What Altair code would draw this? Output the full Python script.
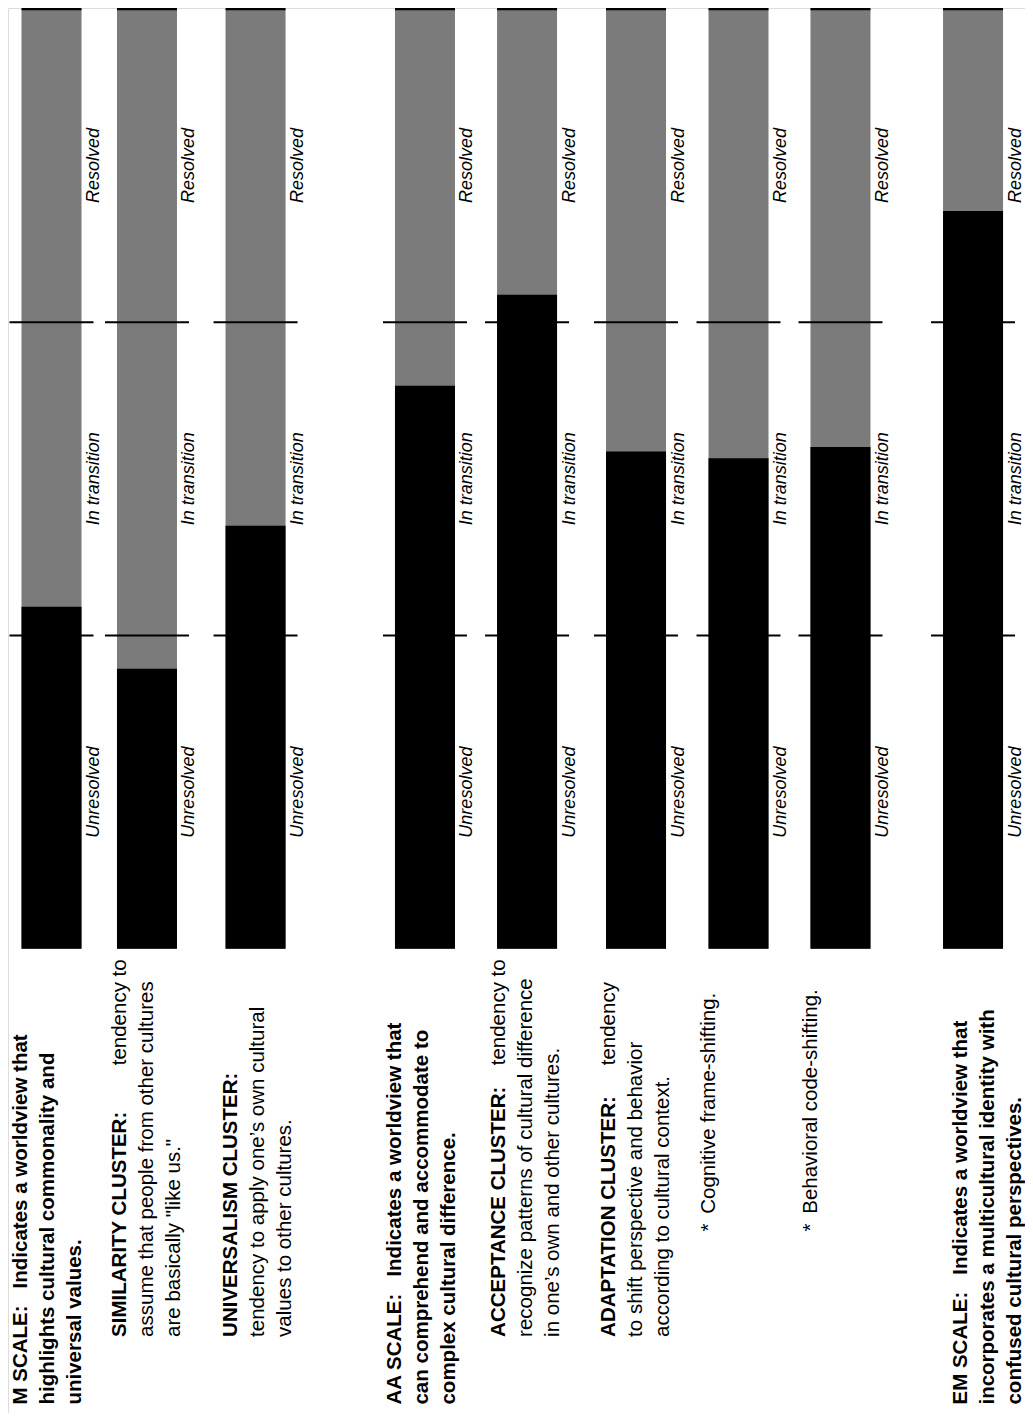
import altair as alt
import pandas as pd

# ---------------- data ----------------
categories = ["M SCALE", "SIMILARITY CLUSTER", "UNIVERSALISM CLUSTER", "AA SCALE",
              "ACCEPTANCE CLUSTER", "ADAPTATION CLUSTER", "Cognitive frame-shifting",
              "Behavioral code-shifting", "EM SCALE"]
bar_slots = [0.0, 0.927, 1.981, 3.626, 4.617, 5.675, 6.670, 7.660, 8.947]
unresolved_level = [36.4, 29.8, 45.0, 59.9, 69.6, 52.9, 52.2, 53.4, 78.5]
scale_top = 100
stage_bounds = [33.33, 66.67]
stage_labels = ["Unresolved", "In transition", "Resolved"]

NB = "\u00a0"
bold_lines = [
    ["M SCALE:" + NB * 3 + "Indicates a worldview that", "highlights cultural commonality and", "universal values."],
    ["SIMILARITY CLUSTER:"],
    ["UNIVERSALISM CLUSTER:"],
    ["AA SCALE:" + NB * 3 + "Indicates a worldview that", "can comprehend and accommodate to", "complex cultural difference."],
    ["ACCEPTANCE CLUSTER:"],
    ["ADAPTATION CLUSTER:"],
    [],
    [],
    ["EM SCALE:" + NB * 3 + "Indicates a worldview that", "incorporates a multicultural identity with", "confused cultural perspectives."],
]
inline_text = [None, "tendency to", None, None, "tendency to", "tendency", "*", "*", None]
plain_lines = [
    [],
    ["assume that people from other cultures", 'are basically "like us."'],
    ["tendency to apply one\u2019s own cultural", "values to other cultures."],
    [],
    ["recognize patterns of cultural difference", "in one\u2019s own and other cultures."],
    ["to shift perspective and behavior", "according to cultural context."],
    ["Cognitive frame-shifting."],
    ["Behavioral code-shifting."],
    [],
]

# ---------------- layout ----------------
PX = 103.0                      # pixels per slot unit
W, H = 1017, 1405
X0 = 43.5                       # pixel position of slot 0
X_DOMAIN = [-X0 / PX, (W - X0) / PX]
Y_DOMAIN = [-49.4, 100.1]
HALF = 30 / PX
TICK_HALF = 42 / PX
LINE_H = 27
block_dx = [-41, -36.5, -35, -39.5, -38.5, -37.5, -40, -39, -22.5]
kind = ["scale", "cluster", "cluster", "scale", "cluster", "cluster", "bullet", "bullet", "scale"]
start_level = {"scale": -48.5, "cluster": -41.3, "bullet": -28.2}
inline_level = {"cluster": -12.4, "bullet": -30.1}
plain_first = {"cluster": 1, "bullet": 0}

xs = alt.Scale(domain=X_DOMAIN, nice=False, zero=False)
ys = alt.Scale(domain=Y_DOMAIN, nice=False, zero=False)

bars = pd.DataFrame({"cat": categories, "slot": bar_slots, "level": unresolved_level})
bars["left"] = bars["slot"] - HALF
bars["right"] = bars["slot"] + HALF
bars["base"] = 0
bars["top"] = scale_top

ticks = pd.DataFrame([
    {"l": s - TICK_HALF, "r": s + TICK_HALF, "lev": b}
    for s in bar_slots for b in stage_bounds
])

edges = [0] + stage_bounds + [scale_top]
labels = pd.DataFrame([
    {"x": s + HALF + 3.5 / PX, "y": (edges[i] + edges[i + 1]) / 2, "t": stage_labels[i]}
    for s in bar_slots for i in range(3)
])

bold_rows, plain_rows = [], []
for b in range(len(categories)):
    k = kind[b]
    for li, t in enumerate(bold_lines[b]):
        bold_rows.append({"x": bar_slots[b] + (block_dx[b] + li * LINE_H) / PX,
                          "y": start_level[k], "t": t})
    if inline_text[b]:
        plain_rows.append({"x": bar_slots[b] + block_dx[b] / PX,
                           "y": inline_level[k], "t": inline_text[b]})
    for j, t in enumerate(plain_lines[b]):
        li = plain_first[k] + j
        plain_rows.append({"x": bar_slots[b] + (block_dx[b] + li * LINE_H) / PX,
                           "y": start_level[k], "t": t})
bold_df = pd.DataFrame(bold_rows)
plain_df = pd.DataFrame(plain_rows)

X = lambda f: alt.X(f, type="quantitative", scale=xs, axis=None)
Y = lambda f: alt.Y(f, type="quantitative", scale=ys, axis=None)

grey = alt.Chart(bars).mark_rect(color="#7b7b7b").encode(
    x=X("left"), x2="right", y=Y("base"), y2="top")
black = alt.Chart(bars).mark_rect(color="#000000").encode(
    x=X("left"), x2="right", y=Y("base"), y2="level")
top_line = alt.Chart(bars).mark_rule(color="#000000", strokeWidth=2.5).encode(
    x=X("left"), x2="right", y=Y("top"))
tick_rules = alt.Chart(ticks).mark_rule(color="#000000", strokeWidth=2).encode(
    x=X("l"), x2="r", y=Y("lev"))

FONT = "Liberation Sans"
stage_text = alt.Chart(labels).mark_text(
    angle=270, align="center", baseline="top", font=FONT, fontSize=18,
    fontStyle="italic", color="#000000").encode(x=X("x"), y=Y("y"), text="t:N")
bold_text = alt.Chart(bold_df).mark_text(
    angle=270, align="left", baseline="top", font=FONT, fontSize=20.5,
    fontWeight="bold", color="#000000").encode(x=X("x"), y=Y("y"), text="t:N")
plain_text = alt.Chart(plain_df).mark_text(
    angle=270, align="left", baseline="top", font=FONT, fontSize=20.5,
    color="#000000").encode(x=X("x"), y=Y("y"), text="t:N")

chart = alt.layer(grey, black, top_line, tick_rules, stage_text, bold_text, plain_text).properties(
    width=W, height=H, padding=0,
    autosize=alt.AutoSizeParams(type="none"),
).configure_view(stroke=None).configure(background="white")

chart.save("out.html", embed_options={"renderer": "svg", "actions": False})
